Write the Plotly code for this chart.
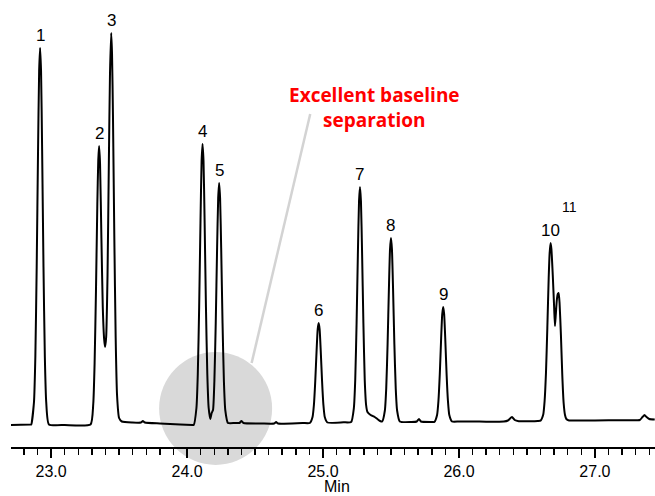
import plotly.graph_objects as go

trace_time = [
    22.70, 22.85, 22.854, 22.874, 22.884, 22.894, 22.904, 22.912, 22.919, 22.926, 22.934, 22.944, 22.954, 22.964, 22.984,
    23.10, 23.29, 23.31, 23.32, 23.33, 23.34, 23.347, 23.353, 23.36, 23.37, 23.38, 23.39, 23.397, 23.405, 23.415, 23.425,
    23.433, 23.442, 23.448, 23.455, 23.465, 23.475, 23.485, 23.50, 23.52, 23.60, 23.66, 23.675, 23.69, 23.80, 23.95, 24.04,
    24.049, 24.069, 24.079, 24.089, 24.099, 24.107, 24.114, 24.121, 24.129, 24.139, 24.149, 24.159, 24.171, 24.181,
    24.191, 24.201, 24.211, 24.221, 24.229, 24.236, 24.243, 24.251, 24.261, 24.271, 24.281, 24.301,
    24.35, 24.385, 24.40, 24.415, 24.55, 24.64, 24.655, 24.67, 24.85, 24.903,
    24.923, 24.933, 24.943, 24.953, 24.961, 24.968, 24.975, 24.983, 24.993, 25.003, 25.013, 25.033,
    25.15, 25.207, 25.227, 25.237, 25.247, 25.257, 25.265, 25.272, 25.279, 25.287, 25.297, 25.307, 25.317, 25.327,
    25.35, 25.38, 25.40, 25.42, 25.435, 25.455, 25.465, 25.475, 25.485, 25.493, 25.500, 25.507, 25.515, 25.525,
    25.535, 25.545, 25.565, 25.65, 25.69, 25.706, 25.72, 25.80, 25.819, 25.839, 25.849, 25.859, 25.869, 25.877,
    25.884, 25.891, 25.899, 25.909, 25.919, 25.929, 25.949, 26.0, 26.1, 26.2, 26.33, 26.36, 26.39, 26.41, 26.44,
    26.58, 26.60, 26.62, 26.63, 26.64, 26.65, 26.66, 26.667, 26.674, 26.68, 26.69, 26.70, 26.706, 26.712, 26.72,
    26.727, 26.733, 26.74, 26.75, 26.76, 26.77, 26.78, 26.79, 26.81, 26.85, 27.0, 27.2, 27.33, 27.35, 27.365,
    27.38, 27.40, 27.44,
]
trace_signal = [
    0, 0.5, 0.5, 23, 68, 158, 275, 354, 377, 354, 275, 158, 68, 23, 0.5,
    0, 0.5, 21, 62, 134, 221, 265, 279, 261, 187, 118, 86, 78, 88, 150, 265,
    350, 392, 372, 310, 188, 87, 30, 7, 3.5, 2.5, 2.5, 4, 2.5, 1.5, 0.5, 0,
    0, 17, 51, 118, 205, 264, 281, 264, 205, 118, 51, 17, 6, 12,
    15, 44, 102, 177, 227, 242, 227, 177, 102, 44, 15, 2,
    2, 2, 4, 2, 1.5, 1.5, 3, 1.5, 2, 2,
    8, 20, 44, 75, 96, 102, 96, 75, 44, 20, 8, 2.5,
    2.7, 3, 17, 45, 102, 175, 224, 238, 224, 175, 102, 45, 20, 13,
    10, 8, 6, 4, 3.5, 14.5, 36.5, 80.5, 137.5, 176, 187, 176, 137.5, 80.5,
    36.5, 14.5, 3.5, 3, 3.5, 6, 3.5, 3, 3, 10, 24, 51, 87, 111,
    118, 111, 87, 51, 24, 10, 3.5, 3.5, 3.5, 3.3, 3.5, 4.5, 8, 5, 3.8,
    4, 4.4, 10.5, 24, 52, 97, 147, 172, 182, 176, 150, 118, 99, 110, 125,
    131, 132, 122, 90, 50, 22, 10, 6, 4.5, 4.5, 4.5, 4.8, 5, 8, 10,
    8, 6, 5.5,
]

# ---- peak labels ----
peak_labels = ["1", "2", "3", "4", "5", "6", "7", "8", "9", "10", "11"]
peak_times = [22.919, 23.353, 23.442, 24.114, 24.236, 24.968, 25.272, 25.500, 25.884, 26.674, 26.733]
peak_tops = [377, 279, 392, 281, 242, 102, 238, 187, 118, 182, 132]

# ---- axis ----
X_RANGE = [22.705, 27.442]
Y_RANGE = [-22, 425]
tick_values = [23.0, 24.0, 25.0, 26.0, 27.0]
tick_text = ["23.0", "24.0", "25.0", "26.0", "27.0"]
x_title = "Min"

# ---- callout ----
callout_text = "Excellent baseline<br>separation"
callout_time, callout_signal = 25.381, 318
leader_start = (24.906, 311)
leader_end = (24.475, 62)
circle_time, circle_signal, circle_radius_px = 24.21, 16.6, 56.5

AXIS_FONT = "Liberation Sans, Arial, sans-serif"

fig = go.Figure()
fig.add_trace(go.Scatter(
    x=trace_time, y=trace_signal, mode="lines",
    line=dict(color="black", width=2, shape="spline", smoothing=0.5),
    hoverinfo="skip", showlegend=False,
))

label_font = dict(family=AXIS_FONT, size=17, color="black")
for lab, t, h in zip(peak_labels, peak_times, peak_tops):
    if lab == "11":
        fig.add_annotation(x=t, y=h, text=lab, showarrow=False, xshift=11, yshift=86,
                           font=dict(family=AXIS_FONT, size=14, color="black"))
    else:
        fig.add_annotation(x=t, y=h, text=lab, showarrow=False, yshift=13, font=label_font)

fig.add_annotation(x=callout_time, y=callout_signal, text="<b>" + callout_text + "</b>",
                   showarrow=False, font=dict(family="Open Sans, sans-serif", size=19, color="#ff0000"))

# x-axis title placed under the tick labels
fig.add_annotation(xref="paper", yref="paper", x=0.5, y=0, xshift=4, yshift=-49,
                   yanchor="bottom", borderpad=0, text=x_title, showarrow=False,
                   font=dict(family=AXIS_FONT, size=16, color="black"))

# leader line
fig.add_shape(type="line", xref="x", yref="y",
              x0=leader_start[0], y0=leader_start[1], x1=leader_end[0], y1=leader_end[1],
              line=dict(color="#d3d3d3", width=2.5), layer="below")

# gray highlight circle (paper y so it can extend below the axis)
y_anchor = (circle_signal - Y_RANGE[0]) / (Y_RANGE[1] - Y_RANGE[0])
fig.add_shape(type="circle", xref="x", yref="paper", xsizemode="pixel", ysizemode="pixel",
              xanchor=circle_time, yanchor=y_anchor,
              x0=-circle_radius_px, x1=circle_radius_px, y0=-circle_radius_px, y1=circle_radius_px,
              fillcolor="#d9d9d9", line=dict(width=0), layer="below")

fig.update_layout(
    width=655, height=496,
    margin=dict(l=11, r=0, t=0, b=49, autoexpand=False),
    paper_bgcolor="white", plot_bgcolor="rgba(0,0,0,0)",
    xaxis=dict(
        range=X_RANGE, showgrid=False, zeroline=False, automargin=False,
        showline=True, linecolor="black", linewidth=2,
        ticks="outside", ticklen=9, tickwidth=2, tickcolor="black",
        tickvals=tick_values, ticktext=tick_text,
        tickfont=dict(family=AXIS_FONT, size=16, color="black"),
        minor=dict(dtick=0.1, tick0=23.0, ticks="outside", ticklen=6, tickwidth=1.5, tickcolor="black", showgrid=False),
    ),
    yaxis=dict(range=Y_RANGE, visible=False, showgrid=False, zeroline=False),
)

fig.write_html("out.html", config={"displayModeBar": False, "staticPlot": True},
               post_script="document.body.style.margin='0';document.body.style.overflow='hidden';")
